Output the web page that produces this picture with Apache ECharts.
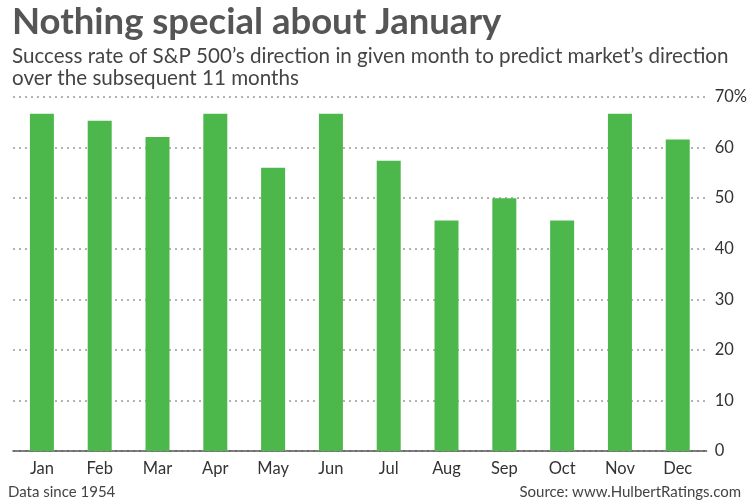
<!DOCTYPE html>
<html><head><meta charset="utf-8">
<script src="https://cdn.jsdelivr.net/npm/echarts@6/dist/echarts.min.js"></script>
<style>html,body{margin:0;padding:0;background:#fff}#c{width:750px;height:501px}</style>
</head><body><div id="c"></div>
<script>
const months = ['Jan','Feb','Mar','Apr','May','Jun','Jul','Aug','Sep','Oct','Nov','Dec'];
const successRate = [66.7, 65.3, 62.1, 66.7, 56.0, 66.7, 57.4, 45.6, 50.0, 45.6, 66.7, 61.6];
const yTicks = [0, 10, 20, 30, 40, 50, 60, 70];
const chart = echarts.init(document.getElementById('c'));
chart.setOption({
  animation: false,
  backgroundColor: '#fff',
  textStyle: { fontFamily: 'Lato' },
  title: [
    { text: 'Nothing special about January', left: 7, top: -1,
      textStyle: { fontFamily: 'Lato', fontWeight: 'bold', fontSize: 36.5, color: '#555' } },
    { text: 'Success rate of S&P 500\u2019s direction in given month to predict market\u2019s direction\nover the subsequent 11 months',
      left: 7, top: 40,
      textStyle: { fontFamily: 'Lato', fontWeight: 'normal', fontSize: 20.6, lineHeight: 22, color: '#444' } },
    { text: 'Data since 1954', left: 3, top: 480,
      textStyle: { fontFamily: 'Lato', fontWeight: 'normal', fontSize: 15, color: '#444' } },
    { text: 'Source: www.HulbertRatings.com', right: 4, top: 480,
      textStyle: { fontFamily: 'Lato', fontWeight: 'normal', fontSize: 15, color: '#444' } }
  ],
  grid: { left: 13, right: 41, top: 97, bottom: 50, containLabel: false },
  xAxis: {
    type: 'category', data: months,
    axisTick: { show: false },
    axisLine: { show: true, lineStyle: { color: '#555', width: 1.5 } },
    axisLabel: { fontFamily: 'Lato', fontSize: 16.5, color: '#333', margin: 9 }
  },
  yAxis: {
    type: 'value', position: 'right', min: 0, max: 70, interval: 10,
    axisLine: { show: false }, axisTick: { show: false },
    axisLabel: { fontFamily: 'Lato', fontSize: 16.5, color: '#333', margin: 8,
      formatter: v => yTicks.includes(v) ? (v === 70 ? '70%' : String(v)) : '' },
    splitLine: { show: true, lineStyle: { color: '#999', type: [2, 4], width: 1.5 } }
  },
  series: [{
    type: 'bar', data: successRate, barWidth: 24,
    itemStyle: { color: '#4cb84c' }
  }]
});
</script></body></html>
